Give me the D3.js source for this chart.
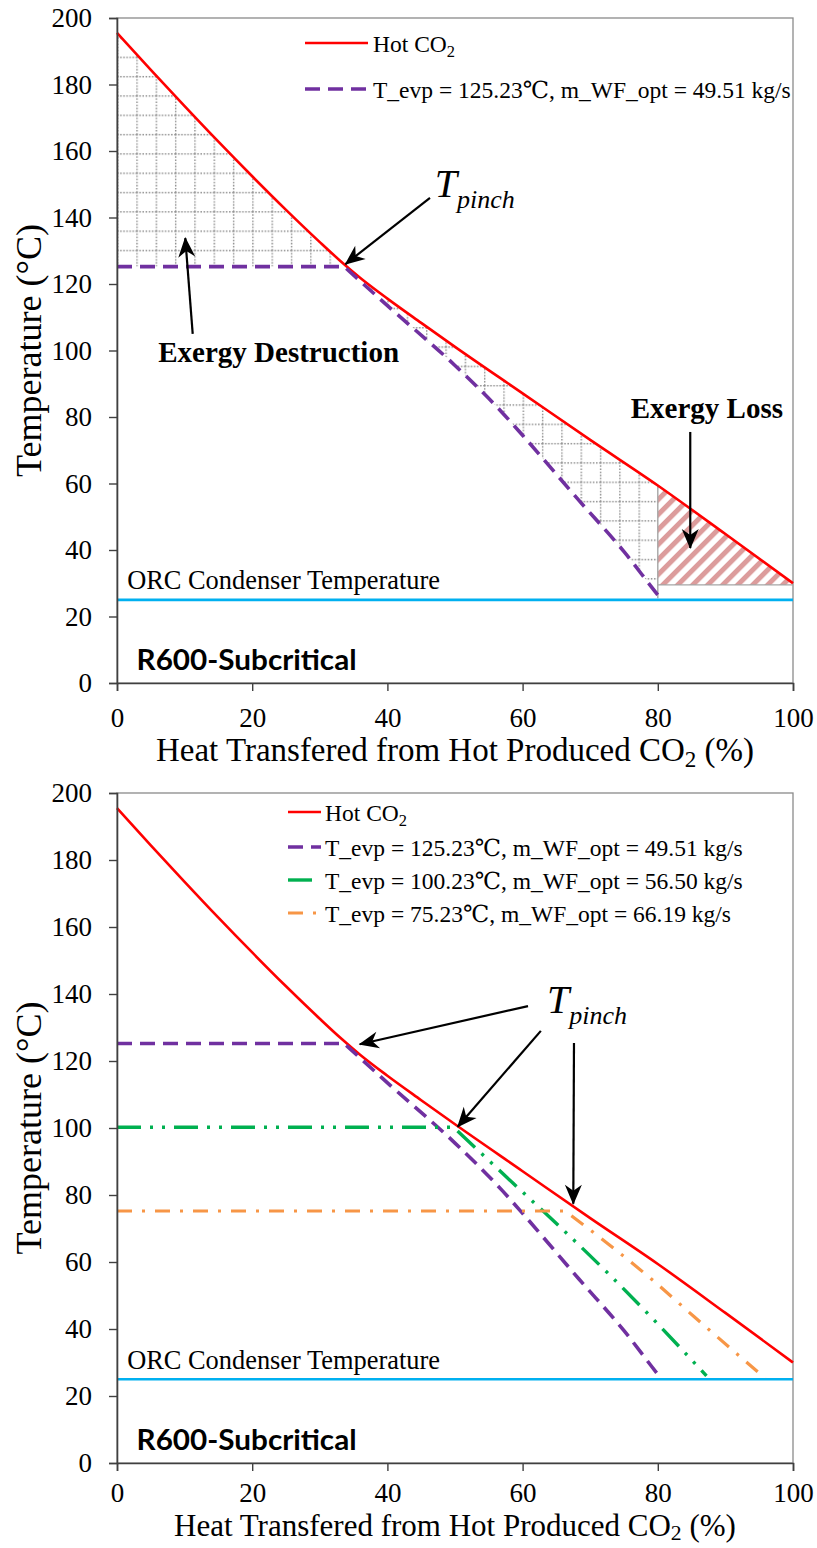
<!DOCTYPE html>
<html><head><meta charset="utf-8">
<script src="https://cdn.jsdelivr.net/npm/d3@7"></script>
<style>body{margin:0;background:#fff} svg{display:block}</style>
</head><body>
<svg id="c" width="817" height="1548"></svg>
<script>
// ---------- DATA ----------
const xTicks = [0, 20, 40, 60, 80, 100];
const yTicks = [0, 20, 40, 60, 80, 100, 120, 140, 160, 180, 200];
// Hot produced CO2 cooling curve
const hotX = [0, 5, 10, 15, 20, 25, 30, 33, 36, 40, 45, 50, 60, 70, 80, 90, 100];
const hotT = [195.5, 184.4, 173.5, 162.8, 152.4, 142.3, 132.6, 127.0, 121.8, 115.6, 108.3, 101.1, 87.1, 73.1, 59.4, 44.8, 30.0];
// Working fluid R600, T_evp = 125.23
const wf125X = [0, 33.6, 40.5, 50, 57, 60, 68.3, 75, 80, 80.4];
const wf125T = [125.23, 125.23, 112.6, 95.5, 81.3, 74.5, 55, 39.5, 26.5, 25.5];
// T_evp = 100.23
const wf100X = [0, 49.8, 58.6, 65, 72.9, 80, 87.2];
const wf100T = [100.23, 100.23, 83.5, 71.5, 56.1, 41.5, 26];
// T_evp = 75.23
const wf75X = [0, 66.3, 72.9, 79, 85.3, 95.9];
const wf75T = [75.23, 75.23, 65, 55, 43.8, 25.3];
const condT = 25;            // ORC condenser temperature
const lossStartX = 80;       // exergy loss region start
const lossBaseT = 29.5;      // exergy loss region bottom
const legendLabels = ["Hot CO\u2082", "T_evp = 125.23\u2103, m_WF_opt = 49.51 kg/s",
  "T_evp = 100.23\u2103, m_WF_opt = 56.50 kg/s", "T_evp = 75.23\u2103, m_WF_opt = 66.19 kg/s"];
const xTitle = "Heat Transfered from Hot Produced CO\u2082 (%)";
const yTitle = "Temperature (\u00B0C)";
const panelTitle = "R600-Subcritical";
const condLabel = "ORC Condenser Temperature";

// ---------- HELPERS ----------
const zip = (xs, ts) => xs.map((x, i) => ({x, t: ts[i]}));
const hot = zip(hotX, hotT), wf125 = zip(wf125X, wf125T), wf100 = zip(wf100X, wf100T), wf75 = zip(wf75X, wf75T);
const serif = "'Liberation Serif','DejaVu Serif','Times New Roman',Times,serif";
const svg = d3.select("#c");
const defs = svg.append("defs");

const styles = {
  hot:   {stroke: "#ff0000", width: 2.6, dash: null},
  wf125: {stroke: "#7030a0", width: 3.6, dash: "15,8"},
  wf100: {stroke: "#00b050", width: 3.4, dash: "24,9,3,9,3,9"},
  wf75:  {stroke: "#f79646", width: 3.2, dash: "15,10,3,10"},
  cond:  {stroke: "#00b0f0", width: 2.6, dash: null}
};

defs.append("marker").attr("id", "ah").attr("viewBox", "-21 -10 23 20")
  .attr("refX", 0).attr("refY", 0).attr("markerWidth", 23).attr("markerHeight", 20)
  .attr("markerUnits", "userSpaceOnUse").attr("orient", "auto")
  .append("path").attr("d", "M1,0 L-19,-8.5 L-13,0 L-19,8.5 Z").attr("fill", "#000");

function addSub(sel, text, subScale, drop) {
  const parts = text.split("\u2082");
  const d = drop || 0.28;
  sel.text(null);
  parts.forEach((p, i) => {
    if (i > 0) {
      sel.append("tspan").attr("font-size", (subScale || 0.68) + "em").attr("dy", d + "em").text("2");
      sel.append("tspan").attr("dy", (-d * (subScale || 0.68)) + "em").text(p);
    } else sel.append("tspan").text(p);
  });
}

function panel(top, bottom, opt) {
  const x = d3.scaleLinear().domain([0, 100]).range([117, 793]);
  const y = d3.scaleLinear().domain([0, 200]).range([bottom, top]);
  const g = svg.append("g");
  const line = d3.line().x(d => x(d.x)).y(d => y(d.t)).curve(d3.curveMonotoneX);
  const wfPath = (data) => `M${x(data[0].x)},${y(data[0].t)}` + line(data.slice(1)).replace(/^M/, "L");

  g.append("rect").attr("x", x(0)).attr("y", y(200)).attr("width", x(100) - x(0))
    .attr("height", y(0) - y(200)).attr("fill", "none").attr("stroke", "#8a8a8a").attr("stroke-width", 1.3);

  if (opt.shade) {
    const pid = "grid" + top;
    const cell = (x(100) - x(0)) / 35;
    const pat = defs.append("pattern").attr("id", pid).attr("patternUnits", "userSpaceOnUse")
      .attr("x", x(0)).attr("y", y(200)).attr("width", cell).attr("height", cell);
    pat.append("line").attr("x1", 0).attr("y1", 0.7).attr("x2", cell).attr("y2", 0.7)
      .attr("stroke", "#8c8c8c").attr("stroke-width", 1.4).attr("stroke-dasharray", "1.5,1.6");
    pat.append("line").attr("x1", 0.7).attr("y1", 0).attr("x2", 0.7).attr("y2", cell)
      .attr("stroke", "#8c8c8c").attr("stroke-width", 1.4).attr("stroke-dasharray", "1.5,1.6");
    const sp = defs.append("pattern").attr("id", "str" + top).attr("patternUnits", "userSpaceOnUse")
      .attr("width", 10.6).attr("height", 10.6).attr("patternTransform", "rotate(45)");
    sp.append("rect").attr("x", 0).attr("y", 0).attr("width", 5).attr("height", 10.6).attr("fill", "#dc9c9c");

    const redPart = hot.filter(d => d.x <= lossStartX);
    const purSlope = wf125.slice(1).filter(d => d.x <= lossStartX).reverse();
    const dPath = line(redPart) + line(purSlope).replace(/^M/, "L") +
      `L${x(wf125[0].x)},${y(wf125[0].t)}Z`;
    g.append("path").attr("d", dPath).attr("fill", `url(#${pid})`);
    const lossRed = hot.filter(d => d.x >= lossStartX);
    const lPath = line(lossRed) + `L${x(100)},${y(lossBaseT)}L${x(lossStartX)},${y(lossBaseT)}Z`;
    g.append("path").attr("d", lPath).attr("fill", `url(#str${top})`);
    const pEnd = wf125[wf125.length - 1];
    g.append("path").attr("d", `M${x(lossStartX)},${y(pEnd.t)}L${x(lossStartX)},${y(hotT[hotX.indexOf(lossStartX)])}`)
      .attr("stroke", "#a6a6a6").attr("stroke-width", 1.4).attr("fill", "none");
    g.append("path").attr("d", `M${x(lossStartX)},${y(lossBaseT)}L${x(100)},${y(lossBaseT)}`)
      .attr("stroke", "#a6a6a6").attr("stroke-width", 1.4).attr("fill", "none");
  }

  g.append("path").attr("d", line([{x: 0, t: condT}, {x: 100, t: condT}]))
    .attr("stroke", styles.cond.stroke).attr("stroke-width", styles.cond.width).attr("fill", "none");

  opt.series.forEach(s => {
    const st = styles[s.key];
    g.append("path").attr("d", s.key === "hot" ? line(s.data) : wfPath(s.data))
      .attr("fill", "none").attr("stroke", st.stroke).attr("stroke-width", st.width)
      .attr("stroke-dasharray", st.dash);
  });

  const ax = g.append("g").attr("transform", `translate(0,${y(0)})`)
    .call(d3.axisBottom(x).tickValues(xTicks).tickSize(8).tickPadding(opt.xPad).tickFormat(d3.format("d")));
  const ay = g.append("g").attr("transform", `translate(${x(0)},0)`)
    .call(d3.axisLeft(y).tickValues(yTicks).tickSize(8).tickPadding(17).tickFormat(d3.format("d")));
  [ax, ay].forEach(a => {
    a.attr("font-family", serif);
    a.select(".domain").attr("stroke", "#404040").attr("stroke-width", 1.6);
    a.selectAll(".tick line").attr("stroke", "#404040").attr("stroke-width", 1.4);
    a.selectAll(".tick text").attr("font-family", serif).style("font-family", serif)
      .attr("font-size", 27).attr("fill", "#000");
  });

  const xt = g.append("text").attr("x", 455).attr("y", y(0) + opt.xTitleOff).attr("text-anchor", "middle")
    .attr("font-family", serif).attr("font-size", opt.xTitleSize).attr("fill", "#000");
  addSub(xt, xTitle, 0.7, opt.subDrop);
  g.append("text").attr("transform", `translate(41,${(y(0) + y(200)) / 2}) rotate(-90)`)
    .attr("text-anchor", "middle").attr("font-family", serif).attr("font-size", 36).attr("fill", "#000")
    .text(yTitle);

  g.append("text").attr("x", x(1.5)).attr("y", y(condT) - 10.7).attr("font-family", serif)
    .attr("font-size", 26.4).attr("fill", "#000").text(condLabel);
  g.append("text").attr("x", x(2.9)).attr("y", y(3.9)).attr("font-family", "Lato,'Open Sans',sans-serif")
    .attr("font-weight", "bold").attr("font-size", 28).attr("textLength", 220)
    .attr("lengthAdjust", "spacingAndGlyphs").attr("fill", "#000").text(panelTitle);

  const lg = opt.legend;
  opt.series.forEach((s, i) => {
    const st = styles[s.key];
    const yy = lg.rows[i];
    g.append("line").attr("x1", lg.x0).attr("x2", lg.x1).attr("y1", yy).attr("y2", yy)
      .attr("stroke", st.stroke).attr("stroke-width", st.width).attr("stroke-dasharray", st.dash);
    const t = g.append("text").attr("x", lg.tx).attr("y", yy + 9).attr("font-family", serif)
      .attr("font-size", 23.5).attr("fill", "#000");
    addSub(t, legendLabels[i], 0.7);
  });

  opt.arrows.forEach(a => {
    g.append("line").attr("x1", x(a[0])).attr("y1", y(a[1])).attr("x2", x(a[2])).attr("y2", y(a[3]))
      .attr("stroke", "#000").attr("stroke-width", 2.2).attr("marker-end", "url(#ah)");
  });
  opt.texts.forEach(tx => {
    const t = g.append("text").attr("x", x(tx.x)).attr("y", y(tx.t)).attr("font-family", serif)
      .attr("fill", "#000");
    if (tx.pinch) {
      t.append("tspan").attr("font-style", "italic").attr("font-size", 40).text("T");
      t.append("tspan").attr("font-style", "italic").attr("font-size", 26).attr("dy", 11).text("pinch");
    } else {
      t.attr("font-weight", "bold").attr("font-size", 29).text(tx.text);
    }
  });
}

panel(18, 683, {
  shade: true, xTitleOff: 78, xTitleSize: 33, xPad: 17, subDrop: 0.28,
  series: [{key: "hot", data: hot}, {key: "wf125", data: wf125}],
  legend: {x0: 305, x1: 368, tx: 373, rows: [43, 89]},
  arrows: [[46.3, 145.9, 33.8, 126.0], [11.2, 105, 10.1, 133.8], [84.8, 75.5, 84.8, 40.6]],
  texts: [{pinch: true, x: 47.0, t: 146.2}, {text: "Exergy Destruction", x: 6.1, t: 96.5},
          {text: "Exergy Loss", x: 76.0, t: 79.6}]
});
panel(793, 1463, {
  shade: false, xTitleOff: 73, xTitleSize: 31, xPad: 12, subDrop: 0.2,
  series: [{key: "hot", data: hot}, {key: "wf125", data: wf125}, {key: "wf100", data: wf100}, {key: "wf75", data: wf75}],
  legend: {x0: 288, x1: 321, tx: 325, rows: [812, 847, 880, 913]},
  arrows: [[60.8, 136.4, 35.9, 125.0], [62.7, 129, 50.4, 100.4], [67.6, 125.4, 67.5, 77.4]],
  texts: [{pinch: true, x: 63.6, t: 134.3}]
});
</script>
</body></html>
